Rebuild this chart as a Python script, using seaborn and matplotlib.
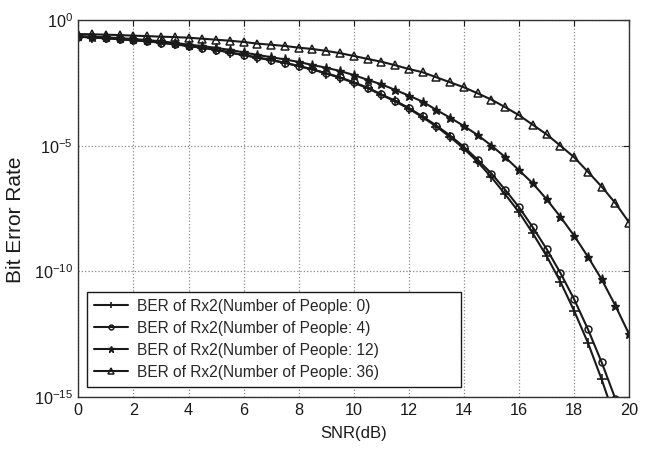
import numpy as np
import pandas as pd
import matplotlib
matplotlib.use("Agg")
import matplotlib.pyplot as plt
import seaborn as sns

snr_db = [0, 0.5, 1, 1.5, 2, 2.5, 3, 3.5, 4, 4.5, 5, 5.5, 6, 6.5, 7, 7.5, 8, 8.5, 9, 9.5,
          10, 10.5, 11, 11.5, 12, 12.5, 13, 13.5, 14, 14.5, 15, 15.5, 16, 16.5, 17, 17.5,
          18, 18.5, 19, 19.5, 20]

# BER values, given as log10(BER)
log_ber_people_0 = [-0.67, -0.70, -0.73, -0.77, -0.81, -0.85, -0.91, -0.97, -1.04, -1.11,
                    -1.19, -1.30, -1.40, -1.50, -1.60, -1.71, -1.84, -1.97, -2.13, -2.30,
                    -2.50, -2.71, -2.98, -3.24, -3.53, -3.87, -4.24, -4.66, -5.12, -5.65,
                    -6.26, -6.94, -7.65, -8.49, -9.39, -10.41, -11.57, -12.84, -14.30, -15.9,
                    -17.7]
log_ber_people_4 = [-0.66, -0.69, -0.72, -0.76, -0.80, -0.84, -0.90, -0.96, -1.03, -1.10,
                    -1.18, -1.29, -1.39, -1.49, -1.59, -1.70, -1.83, -1.96, -2.12, -2.28,
                    -2.48, -2.69, -2.96, -3.21, -3.50, -3.84, -4.20, -4.60, -5.05, -5.56,
                    -6.11, -6.76, -7.45, -8.25, -9.11, -10.06, -11.11, -12.30, -13.62, -15.08,
                    -16.7]
log_ber_people_12 = [-0.64, -0.66, -0.69, -0.72, -0.76, -0.80, -0.85, -0.91, -0.98, -1.04,
                     -1.11, -1.19, -1.29, -1.39, -1.48, -1.57, -1.67, -1.79, -1.90, -2.03,
                     -2.19, -2.38, -2.56, -2.78, -3.01, -3.25, -3.58, -3.89, -4.22, -4.58,
                     -5.00, -5.46, -5.98, -6.50, -7.13, -7.83, -8.58, -9.42, -10.32, -11.37,
                     -12.51]
log_ber_people_36 = [-0.56, -0.57, -0.585, -0.60, -0.625, -0.64, -0.665, -0.68, -0.705, -0.745,
                     -0.785, -0.825, -0.875, -0.94, -0.985, -1.035, -1.10, -1.155, -1.23, -1.32,
                     -1.43, -1.55, -1.66, -1.80, -1.95, -2.08, -2.28, -2.48, -2.68, -2.92,
                     -3.17, -3.47, -3.79, -4.17, -4.55, -5.00, -5.46, -6.04, -6.63, -7.29,
                     -8.06]

labels = ["BER of Rx2(Number of People: 0)",
          "BER of Rx2(Number of People: 4)",
          "BER of Rx2(Number of People: 12)",
          "BER of Rx2(Number of People: 36)"]
x_ticks = [0, 2, 4, 6, 8, 10, 12, 14, 16, 18, 20]
y_ticks = [1e0, 1e-5, 1e-10, 1e-15]
y_tick_labels = [r"$10^{0}$", r"$10^{-5}$", r"$10^{-10}$", r"$10^{-15}$"]

sns.set_theme(style="white")
plt.rcParams["font.family"] = ["Liberation Sans", "DejaVu Sans"]
plt.rcParams["mathtext.fontset"] = "custom"
plt.rcParams["mathtext.rm"] = "Liberation Sans"
plt.rcParams["mathtext.it"] = "Liberation Sans"

fig = plt.figure(figsize=(6.5, 4.5), dpi=100)
ax = fig.add_axes([0.1205, 0.1178, 0.8475, 0.8378])

series = [log_ber_people_0, log_ber_people_4, log_ber_people_12, log_ber_people_36]
styles = [dict(marker="+", markersize=7, markerfacecolor="k", mew=1.2),
          dict(marker="o", markersize=5, markerfacecolor="none", mew=1.1),
          dict(marker="*", markersize=6.5, markerfacecolor="k", mew=1.0),
          dict(marker="^", markersize=5.5, markerfacecolor="none", mew=1.1)]

for logs, lab, st in zip(series, labels, styles):
    df = pd.DataFrame({"snr": snr_db, "ber": np.power(10.0, np.array(logs))})
    sns.lineplot(data=df, x="snr", y="ber", ax=ax, color="k", lw=1.5,
                 markeredgecolor="k", label=lab, **st)

ax.set_yscale("log")
ax.set_xlim(0, 20)
ax.set_ylim(1e-15, 1e0)
ax.set_xticks(x_ticks)
ax.set_xticklabels([str(t) for t in x_ticks], fontsize=11.7)
ax.set_yticks(y_ticks)
ax.set_yticklabels(y_tick_labels, fontsize=11.7)
ax.minorticks_off()
ax.tick_params(direction="in", length=4, width=0.8, top=True, right=True, colors="k",
               labelcolor="k", pad=4)
ax.grid(True, which="major", linestyle=":", color="#888888", linewidth=0.9)
for s in ax.spines.values():
    s.set_color("#333333")
    s.set_linewidth(1.0)

ax.set_xlabel("SNR(dB)", fontsize=12, color="k", labelpad=6)
ax.set_ylabel("Bit Error Rate", fontsize=15, color="k", labelpad=4)
ax.yaxis.set_label_coords(-0.096, 0.47)

leg = ax.legend(loc="lower left", bbox_to_anchor=(0.015, 0.027, 0.68, 0.25),
                mode="expand", borderaxespad=0,
                fontsize=11.2, frameon=True, fancybox=False, handlelength=2.2,
                labelspacing=0.45, borderpad=0.45, handletextpad=0.6, markerscale=0.7)
leg.get_frame().set_edgecolor("k")
leg.get_frame().set_linewidth(1.0)
leg.get_frame().set_alpha(1)

fig.savefig("out.png", dpi=100)
